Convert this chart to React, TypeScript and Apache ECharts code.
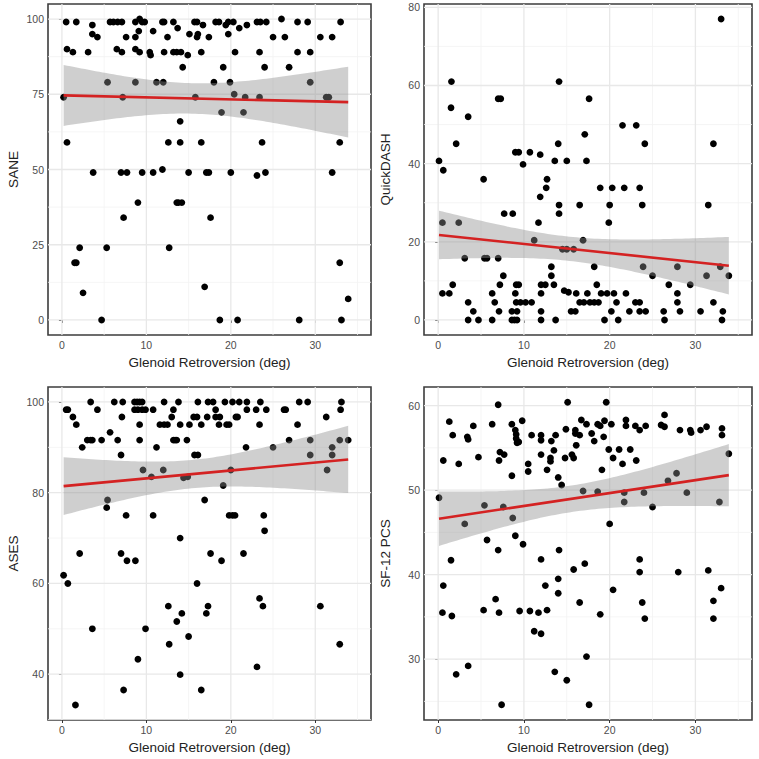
import React, { useEffect, useRef } from "react";
import * as echarts from "echarts";

type Pt = [number, number];

const X_TITLE = "Glenoid Retroversion (deg)";
const X_TICKS = [0, 10, 20, 30];
const X_MINOR = [5, 15, 25, 35];
const X_RANGE: [number, number] = [-1.65, 36.6];

// ---- SANE ----
const SANE_TICKS = [0, 25, 50, 75, 100];
const SANE_MINOR = [12.5, 37.5, 62.5, 87.5];
const SANE_RANGE: [number, number] = [-5, 105];
const SANE_POINTS: Pt[] = [
  [0.5, 99], [1.7, 99], [5.7, 99], [6.1, 99], [6.6, 99], [7.1, 99], [8.7, 99], [9.5, 99], [9.8, 99],
  [11.9, 99], [12.1, 99], [13.2, 99], [15.7, 99], [16.0, 99], [18.2, 99], [18.6, 99], [19.7, 99],
  [20.3, 99], [23.1, 99], [23.5, 99], [24.2, 99], [27.9, 99], [29.1, 99], [33.0, 99],
  [9.2, 100], [26.0, 100],
  [3.6, 98], [16.7, 98], [19.4, 98], [21.9, 98], [13.7, 97], [21.0, 97],
  [9.1, 96], [10.8, 96],
  [3.6, 95], [15.1, 95], [16.1, 95], [19.7, 95],
  [4.2, 94], [7.6, 94], [8.7, 94], [12.5, 94], [16.0, 94], [17.4, 94], [25.0, 94], [26.4, 94], [30.6, 94], [32.0, 94],
  [0.6, 90], [6.5, 90], [8.7, 90],
  [1.3, 89], [3.1, 89], [7.1, 89], [9.2, 89], [10.4, 89], [12.1, 89], [13.2, 89], [13.6, 89], [14.1, 89],
  [16.5, 89], [20.5, 89], [23.4, 89], [27.9, 89], [29.4, 89],
  [10.5, 88], [14.9, 88],
  [14.3, 84], [19.1, 84], [24.0, 84], [26.9, 84],
  [5.4, 79], [8.7, 79], [11.2, 79], [12.0, 79], [18.0, 79], [19.9, 79], [29.4, 79],
  [20.4, 75],
  [0.2, 74], [7.2, 74], [15.8, 74], [21.7, 74], [23.4, 74], [31.3, 74], [31.6, 74],
  [18.9, 69], [21.5, 69], [14.0, 66],
  [0.6, 59], [12.6, 59], [14.0, 59], [16.5, 59], [23.7, 59], [32.9, 59],
  [11.9, 50],
  [3.7, 49], [7.0, 49], [7.7, 49], [9.5, 49], [10.8, 49], [15.0, 49], [17.1, 49], [17.4, 49], [20.0, 49], [24.1, 49], [32.0, 49],
  [23.1, 48],
  [9.0, 39], [13.6, 39], [13.8, 39], [14.2, 39],
  [7.3, 34], [17.6, 34],
  [2.1, 24], [5.3, 24], [12.7, 24],
  [1.5, 19], [1.7, 19], [32.9, 19],
  [16.9, 11], [2.5, 9], [33.9, 7],
  [4.7, 0], [18.7, 0], [20.8, 0], [28.1, 0], [33.1, 0],
];

// ---- QuickDASH ----
const QD_TICKS = [0, 20, 40, 60, 80];
const QD_MINOR = [10, 30, 50, 70];
const QD_RANGE: [number, number] = [-3.85, 80.85];
const QD_POINTS: Pt[] = [
  [33.0, 77.0], [1.55, 61.0], [14.1, 61.0], [1.5, 54.3], [7.0, 56.6], [7.3, 56.6], [17.6, 56.6], [3.5, 52.0],
  [21.5, 49.8], [23.1, 49.8], [2.1, 45.1], [14.0, 45.1], [24.1, 45.1], [32.1, 45.1], [17.1, 47.5],
  [0.1, 40.7], [0.6, 38.3], [9.0, 42.9], [9.4, 42.9], [10.7, 42.9], [9.9, 39.8], [11.9, 42.3],
  [13.6, 40.7], [15.0, 40.7], [17.3, 40.7], [5.3, 36.0], [12.7, 36.0], [12.6, 33.8], [11.9, 31.5],
  [18.9, 33.8], [20.3, 33.8], [21.7, 33.8], [23.5, 33.8],
  [14.1, 29.4], [16.5, 29.4], [20.0, 29.4], [23.8, 29.4], [31.5, 29.4],
  [7.7, 27.2], [8.7, 27.2], [14.1, 27.2],
  [0.5, 24.9], [2.4, 24.9], [11.7, 24.9], [19.9, 24.9],
  [11.2, 20.4], [16.9, 20.4], [14.5, 18.1], [15.0, 18.1], [15.8, 18.1],
  [3.1, 15.8], [5.4, 15.8], [5.7, 15.8], [7.0, 15.8],
  [13.2, 13.6], [18.2, 13.6], [23.9, 13.6], [27.9, 13.6], [32.9, 13.6],
  [7.6, 11.3], [13.2, 11.3], [25.0, 11.3], [31.3, 11.3], [33.9, 11.3],
  [1.7, 9.0], [7.2, 9.0], [9.1, 9.0], [9.4, 9.0], [12.0, 9.0], [12.5, 9.0], [13.5, 9.0], [18.5, 9.0], [26.9, 9.0], [29.4, 9.0],
  [0.5, 6.8], [1.3, 6.8], [6.3, 6.8], [9.0, 6.8], [12.0, 6.8], [14.7, 7.5], [15.2, 7.1], [16.1, 6.8], [17.4, 6.8],
  [19.0, 6.8], [19.7, 6.8], [20.5, 6.8], [21.9, 6.8], [27.9, 6.8],
  [3.5, 4.5], [6.6, 4.5], [9.1, 4.5], [9.6, 4.5], [10.2, 4.5], [10.9, 4.5], [16.5, 4.5], [17.0, 4.5], [17.7, 4.5],
  [18.2, 4.5], [18.7, 4.5], [20.8, 4.5], [23.0, 4.5], [23.5, 4.5], [27.9, 4.5], [32.1, 4.5],
  [4.1, 2.2], [7.1, 2.2], [8.6, 2.2], [9.2, 2.2], [12.0, 2.2], [15.5, 2.2], [16.0, 2.2], [20.2, 2.2], [22.3, 2.2],
  [23.5, 2.2], [24.2, 2.2], [26.3, 2.2], [28.2, 2.2], [30.6, 2.2], [33.2, 2.2],
  [3.5, 0], [4.7, 0], [6.3, 0], [8.6, 0], [8.9, 0], [9.2, 0], [12.0, 0], [13.7, 0], [19.4, 0], [21.0, 0], [26.4, 0], [33.1, 0],
];

// ---- ASES ----
const ASES_TICKS = [40, 60, 80, 100];
const ASES_MINOR = [30, 50, 70, 90];
const ASES_RANGE: [number, number] = [29.9, 103.3];
const ASES_POINTS: Pt[] = [
  [3.4, 100], [6.2, 100], [7.2, 100], [8.6, 100], [8.9, 100], [9.2, 100], [9.5, 100], [12.1, 100], [13.8, 100],
  [16.1, 100], [17.3, 100], [17.9, 100], [19.3, 100], [20.2, 100], [21.0, 100], [21.9, 100], [23.5, 100],
  [28.1, 100], [29.1, 100], [33.1, 100],
  [0.5, 98.3], [0.7, 98.3], [4.2, 98.3], [8.6, 98.3], [9.0, 98.3], [9.5, 98.3], [9.9, 98.3], [10.8, 98.3],
  [13.2, 98.3], [18.2, 98.3], [21.9, 98.3], [23.0, 98.3], [24.2, 98.3], [26.3, 98.3], [26.5, 98.3], [33.0, 98.3],
  [1.3, 96.7], [7.1, 96.7], [13.0, 96.7], [15.6, 96.7], [16.0, 96.7], [17.2, 96.7], [18.2, 96.7], [18.7, 96.7],
  [20.6, 96.7], [20.8, 96.7], [31.3, 96.7],
  [1.7, 95], [9.2, 95], [11.6, 95], [12.1, 95], [12.5, 95], [14.0, 95], [15.1, 95], [16.5, 95], [18.6, 95],
  [19.5, 95], [19.8, 95], [23.4, 95], [27.9, 95],
  [5.7, 93.3],
  [3.0, 91.6], [3.4, 91.6], [3.6, 91.6], [4.7, 91.6], [6.6, 91.6], [9.2, 91.6], [13.2, 91.6], [13.4, 91.6],
  [13.6, 91.6], [14.8, 91.6], [26.9, 91.6], [29.4, 91.6], [32.9, 91.6], [33.9, 91.6],
  [2.4, 90], [11.2, 90], [21.8, 90], [25.0, 90], [32.0, 90],
  [7.0, 88.3], [15.7, 88.3], [16.1, 88.3], [29.4, 88.3], [32.0, 88.3],
  [9.6, 85], [12.0, 85], [20.0, 85], [31.4, 85],
  [10.6, 83.5], [14.4, 83.3], [14.9, 83.5],
  [19.1, 81.6], [5.4, 78.4], [16.9, 78.4], [5.3, 76.7],
  [7.6, 75], [10.8, 75], [19.8, 75], [20.2, 75], [20.5, 75], [23.9, 75],
  [24.0, 71.6], [14.0, 70],
  [2.1, 66.6], [7.0, 66.6], [17.6, 66.6], [21.5, 66.6],
  [7.7, 65], [8.7, 65], [18.9, 65],
  [0.2, 61.8], [0.7, 60], [16.0, 60], [23.4, 56.7],
  [23.8, 55], [12.6, 55], [17.3, 55], [30.6, 55],
  [14.2, 53.4], [17.1, 53.4], [13.6, 51.6], [3.6, 50], [9.9, 50], [15.0, 48.3],
  [12.7, 46.6], [32.9, 46.6], [9.0, 43.3], [23.1, 41.6], [14.0, 39.9],
  [7.3, 36.5], [16.5, 36.5], [1.6, 33.2],
];

// ---- SF-12 PCS ----
const PCS_TICKS = [30, 40, 50, 60];
const PCS_MINOR = [25, 35, 45, 55];
const PCS_RANGE: [number, number] = [22.8, 62.2];
const PCS_POINTS: Pt[] = [
  [0.1, 49.1], [0.6, 53.5], [1.3, 58.1], [1.7, 56.5], [2.4, 53.1], [3.1, 46.0], [3.4, 56.3], [3.5, 56.0],
  [4.1, 57.6], [4.7, 53.9], [5.4, 48.2], [5.7, 44.1], [6.3, 57.8], [7.0, 60.1], [7.1, 53.5], [7.2, 54.5],
  [7.7, 54.2], [7.0, 42.9], [7.6, 48.0], [8.6, 57.8], [8.6, 51.7], [8.7, 46.7], [9.0, 57.1], [9.1, 56.6],
  [9.1, 56.1], [9.2, 55.6], [9.4, 55.7], [9.0, 44.6], [9.8, 58.2], [9.9, 43.6], [10.5, 53.1], [10.5, 52.2],
  [10.9, 56.5], [12.0, 55.9], [12.0, 56.5], [12.0, 54.2], [12.0, 41.8], [12.7, 52.4], [13.1, 53.8],
  [13.1, 53.4], [13.2, 55.8], [13.5, 54.7], [13.7, 56.5], [14.0, 51.5], [14.1, 42.9], [14.4, 50.6],
  [14.8, 53.8], [14.9, 57.2], [15.1, 60.4], [15.6, 54.2], [15.8, 53.8], [16.0, 57.1], [16.0, 56.7],
  [16.1, 55.3], [16.5, 56.5], [16.7, 58.3], [16.9, 49.9], [17.3, 57.8], [17.9, 56.7], [18.2, 55.8],
  [18.6, 49.8], [18.6, 57.8], [18.9, 57.6], [19.1, 52.4], [19.4, 58.2], [19.3, 56.3], [19.6, 60.4],
  [19.9, 54.8], [20.0, 46.0], [20.2, 57.8], [20.4, 53.8], [21.1, 54.8], [21.5, 53.1], [21.7, 49.7],
  [21.9, 58.3], [21.9, 57.6], [21.7, 48.6], [22.4, 54.8], [23.0, 57.6], [23.1, 53.5], [23.5, 57.1],
  [23.5, 41.8], [24.0, 49.7], [24.2, 57.6], [25.0, 48.0], [26.0, 57.7], [26.4, 57.5], [26.4, 58.9],
  [26.8, 51.1], [27.8, 52.0], [28.2, 57.1], [29.0, 49.7], [29.4, 57.1], [29.5, 56.8], [30.6, 57.1],
  [31.3, 57.5], [32.8, 48.6], [33.1, 57.3], [33.1, 56.5], [33.9, 54.3],
  [1.5, 41.7], [15.8, 40.6], [17.1, 41.3], [28.0, 40.3], [31.5, 40.5], [23.5, 40.3],
  [0.6, 38.7], [0.5, 35.5], [1.6, 35.1], [2.1, 28.2], [3.5, 29.2], [5.3, 35.8], [6.7, 37.1], [7.1, 35.5],
  [7.4, 24.6], [9.5, 35.7], [10.7, 35.7], [11.2, 33.3], [11.7, 35.5], [12.0, 33.0], [12.5, 38.7],
  [12.7, 35.8], [13.6, 28.5], [14.0, 39.5], [14.0, 37.8], [15.0, 27.5], [16.5, 36.7], [17.3, 30.3],
  [17.6, 24.6], [18.9, 35.3], [20.4, 38.2], [23.8, 36.7], [24.1, 34.8], [32.1, 36.9], [32.1, 34.8], [33.0, 38.4],
];

const PANELS = [
  { name: "SANE", points: SANE_POINTS, ticks: SANE_TICKS, minor: SANE_MINOR, range: SANE_RANGE },
  { name: "QuickDASH", points: QD_POINTS, ticks: QD_TICKS, minor: QD_MINOR, range: QD_RANGE },
  { name: "ASES", points: ASES_POINTS, ticks: ASES_TICKS, minor: ASES_MINOR, range: ASES_RANGE },
  { name: "SF-12 PCS", points: PCS_POINTS, ticks: PCS_TICKS, minor: PCS_MINOR, range: PCS_RANGE },
];

const GRIDS = [
  { left: 48, top: 4, width: 323, height: 331 },
  { left: 424, top: 4, width: 328, height: 331 },
  { left: 48, top: 387, width: 323, height: 333 },
  { left: 424, top: 387, width: 328, height: 333 },
];

function lmFit(pts: Pt[]) {
  const n = pts.length;
  let mx = 0, my = 0;
  pts.forEach(([x, y]) => { mx += x; my += y; });
  mx /= n; my /= n;
  let sxx = 0, sxy = 0;
  pts.forEach(([x, y]) => { sxx += (x - mx) ** 2; sxy += (x - mx) * (y - my); });
  const b = sxy / sxx;
  const a = my - b * mx;
  let sse = 0;
  pts.forEach(([x, y]) => { sse += (y - a - b * x) ** 2; });
  const df = n - 2;
  const s = Math.sqrt(sse / df);
  const z = 1.959964;
  const t = z + (z ** 3 + z) / (4 * df) + (5 * z ** 5 + 16 * z ** 3 + 3 * z) / (96 * df * df);
  const xs = pts.map((p) => p[0]);
  const x0 = Math.min(...xs), x1 = Math.max(...xs);
  const band: [number, number, number][] = [];
  const N = 80;
  for (let i = 0; i <= N; i++) {
    const x = x0 + ((x1 - x0) * i) / N;
    const yh = a + b * x;
    const se = s * Math.sqrt(1 / n + (x - mx) ** 2 / sxx);
    band.push([x, yh - t * se, yh + t * se]);
  }
  const line: Pt[] = [[x0, a + b * x0], [x1, a + b * x1]];
  return { band, line };
}

const FONT = "Liberation Sans, Arial, sans-serif";

export default function App() {
  const ref = useRef<HTMLDivElement>(null);
  useEffect(() => {
    if (!ref.current) return;
    const chart = echarts.init(ref.current, undefined, { renderer: "svg" });
    const grid: any[] = [];
    const xAxis: any[] = [];
    const yAxis: any[] = [];
    const series: any[] = [];
    PANELS.forEach((p, i) => {
      const g = GRIDS[i];
      grid.push({ ...g, show: true, borderColor: "#3c3c3c", borderWidth: 1.6, backgroundColor: "#fff" });
      xAxis.push({
        type: "value", gridIndex: i, min: X_RANGE[0], max: X_RANGE[1],
        splitLine: { show: false }, axisLine: { show: false },
        axisTick: { show: true, customValues: X_TICKS, length: 3, lineStyle: { color: "#333", width: 1 } },
        axisLabel: { customValues: X_TICKS, color: "#4d4d4d", fontSize: 10.5, fontFamily: FONT, margin: 4 },
        name: X_TITLE, nameLocation: "middle", nameGap: 20,
        nameTextStyle: { color: "#222", fontSize: 13.5, fontFamily: FONT },
      });
      yAxis.push({
        type: "value", gridIndex: i, min: p.range[0], max: p.range[1],
        splitLine: { show: false }, axisLine: { show: false },
        axisTick: { show: true, customValues: p.ticks, length: 3, lineStyle: { color: "#333", width: 1 } },
        axisLabel: { customValues: p.ticks, color: "#4d4d4d", fontSize: 10.5, fontFamily: FONT, margin: 4 },
        name: p.name, nameLocation: "middle", nameGap: i % 2 === 0 ? 28 : 32, nameRotate: 90,
        nameTextStyle: { color: "#222", fontSize: 13.5, fontFamily: FONT },
      });
      const fit = lmFit(p.points);
      // grid lines: [value, orientation (0 = vertical, 1 = horizontal), major (1) / minor (0)]
      const gridLines = [
        ...X_MINOR.map((v) => [v, 0, 0]),
        ...p.minor.map((v) => [v, 1, 0]),
        ...X_TICKS.map((v) => [v, 0, 1]),
        ...p.ticks.map((v) => [v, 1, 1]),
      ];
      series.push({
        type: "custom", xAxisIndex: i, yAxisIndex: i, z: 1, silent: true,
        data: gridLines,
        encode: { x: 0, y: 0 },
        renderItem: (params: any, api: any) => {
          const v = api.value(0);
          const horiz = api.value(1) === 1;
          const major = api.value(2) === 1;
          const cs = params.coordSys;
          let shape;
          if (horiz) {
            const py = api.coord([X_RANGE[0], v])[1];
            shape = { x1: cs.x, y1: py, x2: cs.x + cs.width, y2: py };
          } else {
            const px = api.coord([v, p.range[0]])[0];
            shape = { x1: px, y1: cs.y, x2: px, y2: cs.y + cs.height };
          }
          return {
            type: "line",
            shape,
            style: major
              ? { stroke: "#e8e8e8", lineWidth: 1.3 }
              : { stroke: "#f2f2f2", lineWidth: 0.8 },
          };
        },
      });
      series.push({
        type: "scatter", xAxisIndex: i, yAxisIndex: i, z: 2, data: p.points,
        symbolSize: 6.8, itemStyle: { color: "#000", opacity: 1 },
      });
      series.push({
        type: "custom", xAxisIndex: i, yAxisIndex: i, z: 3, silent: true,
        data: [[fit.band[0][0], fit.band[0][1]]],
        renderItem: (_params: any, api: any) => {
          const upper = fit.band.map((b) => api.coord([b[0], b[2]]));
          const lower = fit.band.slice().reverse().map((b) => api.coord([b[0], b[1]]));
          return {
            type: "polygon",
            shape: { points: upper.concat(lower) },
            style: { fill: "#8c8c8c", opacity: 0.42 },
          };
        },
      });
      series.push({
        type: "line", xAxisIndex: i, yAxisIndex: i, z: 4, data: fit.line, showSymbol: false,
        symbol: "none", lineStyle: { color: "#d42222", width: 2.6 },
      });
    });
    chart.setOption({ animation: false, backgroundColor: "#fff", grid, xAxis, yAxis, series });
    return () => chart.dispose();
  }, []);
  return (
    <div
      ref={ref}
      style={{ position: "fixed", left: 0, top: 0, width: 759, height: 759, background: "#fff" }}
    />
  );
}
